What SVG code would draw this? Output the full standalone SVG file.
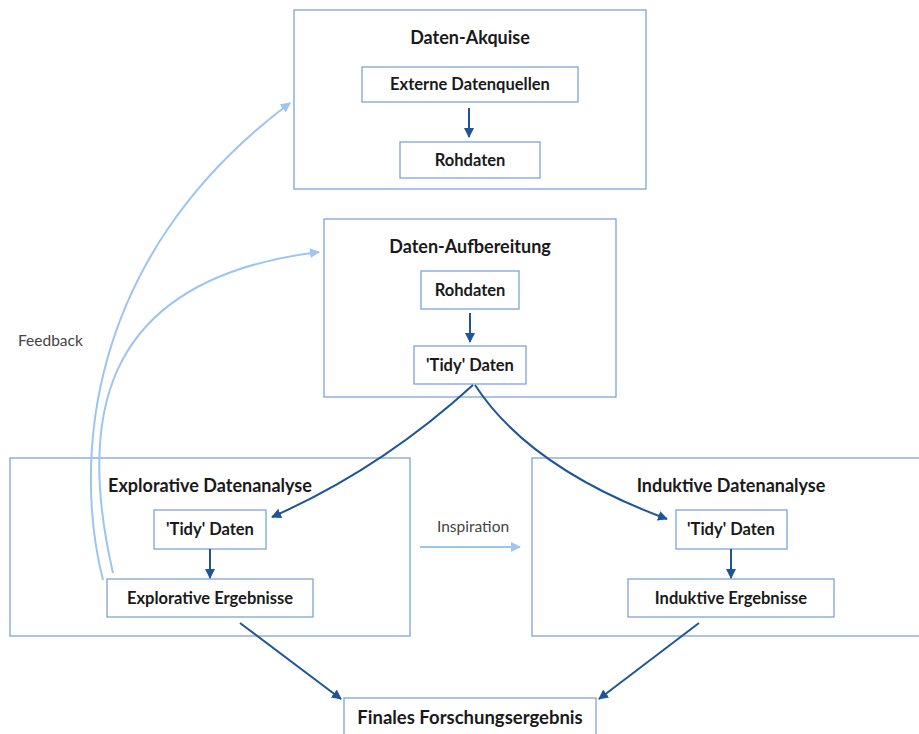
<svg xmlns="http://www.w3.org/2000/svg" width="919" height="734" viewBox="0 0 919 734">
<style>
.frame{fill:#fff;stroke:#7fa3d6;stroke-width:1.3}
.box{fill:#fff;stroke:#7fa3d6;stroke-width:1.3}
.title{font-family:Lato,"Liberation Sans",sans-serif;font-weight:bold;font-size:18px;fill:#1a1a1a;text-anchor:middle}
.lbl{font-family:Lato,"Liberation Sans",sans-serif;font-weight:bold;font-size:16.5px;fill:#1a1a1a;text-anchor:middle}
.note{font-family:Lato,"Liberation Sans",sans-serif;font-size:15.5px;fill:#444}
.dark{fill:none;stroke:#1f5597;stroke-width:2;marker-end:url(#ad)}
.light{fill:none;stroke:#9ec4f0;stroke-width:2;marker-end:url(#al)}
</style>
<defs>
<marker id="ad" viewBox="0 0 10 10" refX="9" refY="5" markerWidth="5" markerHeight="5" orient="auto" markerUnits="strokeWidth"><path d="M0,0 L10,5 L0,10 z" fill="#1f5597"/></marker>
<marker id="al" viewBox="0 0 10 10" refX="9" refY="5" markerWidth="5" markerHeight="5" orient="auto" markerUnits="strokeWidth"><path d="M0,0 L10,5 L0,10 z" fill="#9ec4f0"/></marker>
</defs>
<rect width="919" height="734" fill="#fff"/>

<g id="akquise">
<rect class="frame" x="294" y="10" width="352" height="179"/>
<text class="title" x="470" y="44">Daten-Akquise</text>
</g>
<g id="externe">
<rect class="box" x="362" y="67" width="216" height="35"/>
<text class="lbl" x="470" y="90">Externe Datenquellen</text>
</g>
<g id="rohdaten1">
<rect class="box" x="400" y="142" width="140" height="36"/>
<text class="lbl" x="470" y="166">Rohdaten</text>
</g>

<g id="aufbereitung">
<rect class="frame" x="324" y="219" width="292" height="178"/>
<text class="title" x="470" y="253">Daten-Aufbereitung</text>
</g>
<g id="rohdaten2">
<rect class="box" x="421" y="271" width="98" height="38"/>
<text class="lbl" x="470" y="296">Rohdaten</text>
</g>
<g id="tidy1">
<rect class="box" x="414" y="346" width="112" height="38"/>
<text class="lbl" x="470" y="371">'Tidy' Daten</text>
</g>

<g id="explorativ">
<rect class="frame" x="10" y="458" width="400" height="178"/>
<text class="title" x="210" y="492">Explorative Datenanalyse</text>
</g>
<g id="tidy2">
<rect class="box" x="154" y="510" width="112" height="39"/>
<text class="lbl" x="210" y="535">'Tidy' Daten</text>
</g>
<g id="expl-erg">
<rect class="box" x="107" y="579" width="206" height="38"/>
<text class="lbl" x="210" y="604">Explorative Ergebnisse</text>
</g>

<g id="induktiv">
<rect class="frame" x="532" y="458" width="388" height="178"/>
<text class="title" x="731" y="492">Induktive Datenanalyse</text>
</g>
<g id="tidy3">
<rect class="box" x="676" y="510" width="111" height="39"/>
<text class="lbl" x="731" y="535">'Tidy' Daten</text>
</g>
<g id="ind-erg">
<rect class="box" x="628" y="579" width="206" height="38"/>
<text class="lbl" x="731" y="604">Induktive Ergebnisse</text>
</g>

<g id="finales">
<rect class="box" x="344" y="698" width="252" height="50"/>
<text class="lbl" x="470" y="724" style="font-size:18.5px">Finales Forschungsergebnis</text>
</g>

<g id="connectors">
<line class="dark" x1="469" y1="108" x2="469" y2="137"/>
<line class="dark" x1="470" y1="313" x2="470" y2="342"/>
<line class="dark" x1="210" y1="549" x2="210" y2="578"/>
<line class="dark" x1="731" y1="549" x2="731" y2="578"/>
<path class="dark" d="M473,385 Q381,469 272,517"/>
<path class="dark" d="M475,385 Q529,468 667,519"/>
<line class="dark" x1="240" y1="623" x2="341" y2="699"/>
<line class="dark" x1="699" y1="623" x2="599" y2="699"/>
<line class="light" x1="420" y1="547" x2="520" y2="547"/>
<path class="light" d="M103,580 C75,470 80,260 290,103"/>
<path class="light" d="M113,573 C80,430 90,280 319,252"/>
<text class="note" x="437" y="532">Inspiration</text>
<text class="note" x="18" y="346">Feedback</text>
</g>
</svg>
